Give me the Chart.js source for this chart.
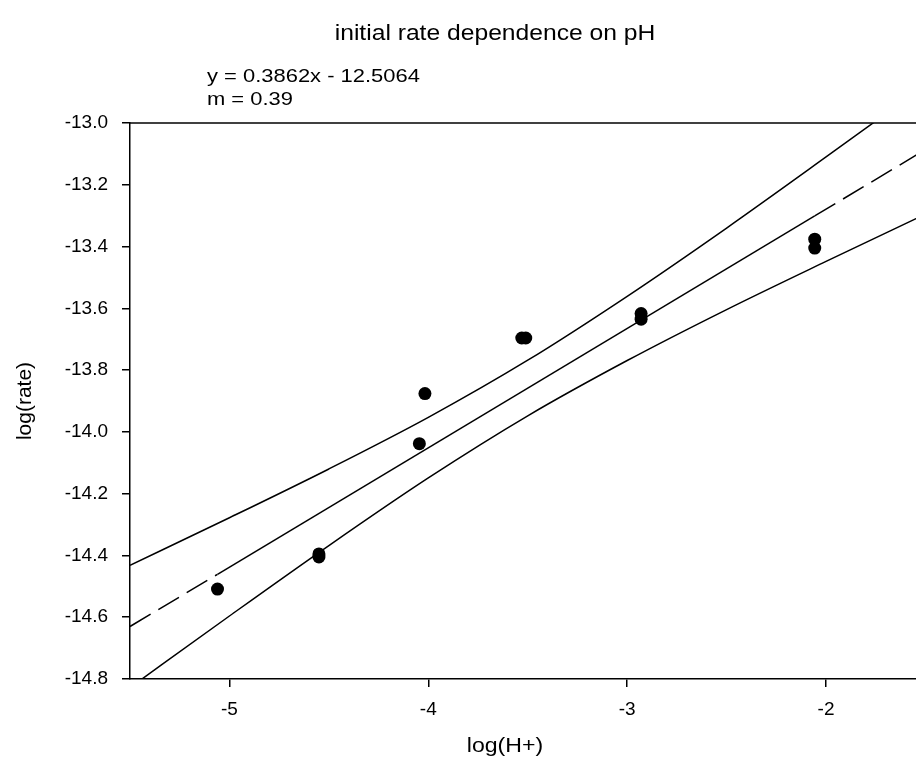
<!DOCTYPE html>
<html>
<head>
<meta charset="utf-8">
<script src="https://cdn.jsdelivr.net/npm/chart.js@4.4.1/dist/chart.umd.min.js"></script>
<style>
  html, body { margin: 0; padding: 0; background: #fff; overflow: hidden; }
  #wrap { position: relative; width: 940px; height: 775px; font-family: "Liberation Sans", Arial, sans-serif; color: #000; }
  canvas { display: block; }
  .title { position: absolute; left: 0; width: 990px; top: 20px; text-align: center; font-size: 22px; line-height: 26px;
           transform: scaleX(1.12); transform-origin: 495px 0; }
  .eq { position: absolute; left: 207px; top: 63.5px; font-size: 18.6px; line-height: 23.3px;
        transform: scaleX(1.18); transform-origin: 0 0; white-space: nowrap; }
  .xtitle { position: absolute; left: 0; width: 1010px; top: 732px; text-align: center; font-size: 21px; line-height: 26px;
            transform: scaleX(1.1); transform-origin: 505px 0; }
</style>
</head>
<body>
<div id="wrap">
  <canvas id="chart" width="940" height="775"></canvas>
  <div class="title">initial rate dependence on pH</div>
  <div class="eq">y = 0.3862x - 12.5064<br>m = 0.39</div>
  <div class="xtitle">log(H+)</div>
</div>
<script>
// measured points: log(H+) vs log(rate)
const LOG_H = [-5.06, -4.55, -4.55, -4.045, -4.017, -3.53, -3.51, -2.93, -2.93, -2.057, -2.057];
const LOG_RATE = [-14.509, -14.395, -14.405, -14.038, -13.876, -13.696, -13.696, -13.617, -13.635, -13.376, -13.405];

// regression line y = 0.3862x - 12.5064 (solid over the data, dashed outside)
const FIT_X = [-5.5, -5.06, -2.057, -1.5];
const FIT_Y = [-14.630, -14.461, -13.301, -13.086];

// 95% confidence bands
const BAND_X = [-5.5, -5.0, -4.5, -4.0, -3.5, -3.0, -2.5, -2.0, -1.5];
const BAND_UPPER = [-14.432, -14.278, -14.120, -13.953, -13.768, -13.561, -13.340, -13.110, -12.877];
const BAND_LOWER = [-14.828, -14.596, -14.368, -14.149, -13.948, -13.769, -13.604, -13.448, -13.295];

const X_TICKS = [-5, -4, -3, -2];

const toXY = (xs, ys) => xs.map((x, i) => ({ x, y: ys[i] }));

const lineStyle = { showLine: true, pointRadius: 0, borderColor: '#000', borderWidth: 1.5, fill: false };

// frame line along the top of the plot
const topBorder = {
  id: 'topBorder',
  afterDraw(chart) {
    const { ctx, chartArea } = chart;
    ctx.save();
    ctx.strokeStyle = '#000';
    ctx.lineWidth = 1.5;
    ctx.beginPath();
    ctx.moveTo(chartArea.left, chartArea.top);
    ctx.lineTo(chartArea.right + 20, chartArea.top);
    ctx.stroke();
    ctx.restore();
  }
};

const tickFont = { family: '"Liberation Sans", Arial, sans-serif', size: 19 };
const titleFont = { family: '"Liberation Sans", Arial, sans-serif', size: 21 };

new Chart(document.getElementById('chart'), {
  type: 'scatter',
  data: {
    datasets: [
      { data: toXY(BAND_X, BAND_UPPER), ...lineStyle, cubicInterpolationMode: 'monotone' },
      { data: toXY(BAND_X, BAND_LOWER), ...lineStyle, cubicInterpolationMode: 'monotone' },
      { data: toXY(FIT_X.slice(1, 3), FIT_Y.slice(1, 3)), ...lineStyle },
      { data: toXY(FIT_X.slice(0, 2), FIT_Y.slice(0, 2)), ...lineStyle, borderDash: [24, 9] },
      { data: toXY(FIT_X.slice(2), FIT_Y.slice(2)), ...lineStyle, borderDash: [24, 9] },
      { data: toXY(LOG_H, LOG_RATE), pointRadius: 6.5, pointHoverRadius: 6.5,
        backgroundColor: '#000', borderColor: '#000', borderWidth: 0, showLine: false }
    ]
  },
  options: {
    responsive: false,
    animation: false,
    layout: { padding: { top: 123, right: 14.5, bottom: 0, left: 0 } },
    plugins: { legend: { display: false }, tooltip: { enabled: false } },
    scales: {
      x: {
        type: 'linear', min: -5.5, max: -1.5,
        afterBuildTicks: axis => { axis.ticks = X_TICKS.map(v => ({ value: v })); },
        afterFit: axis => { axis.height = 96; },
        ticks: { color: '#000', font: tickFont, padding: 11, maxRotation: 0, callback: v => String(v) },
        grid: { drawOnChartArea: false, drawTicks: true, tickLength: 8, color: '#000', lineWidth: 1.5 },
        border: { color: '#000', width: 1.5 }
      },
      y: {
        type: 'linear', min: -14.8, max: -13.0,
        afterFit: axis => { axis.width = 130; },
        ticks: { stepSize: 0.2, color: '#000', font: tickFont, padding: 14, callback: v => v.toFixed(1) },
        grid: { drawOnChartArea: false, drawTicks: true, tickLength: 8, color: '#000', lineWidth: 1.5 },
        border: { color: '#000', width: 1.5 },
        title: { display: true, text: 'log(rate)', color: '#000', font: titleFont, padding: { top: 13, bottom: 0 } }
      }
    }
  },
  plugins: [topBorder]
});
</script>
</body>
</html>
